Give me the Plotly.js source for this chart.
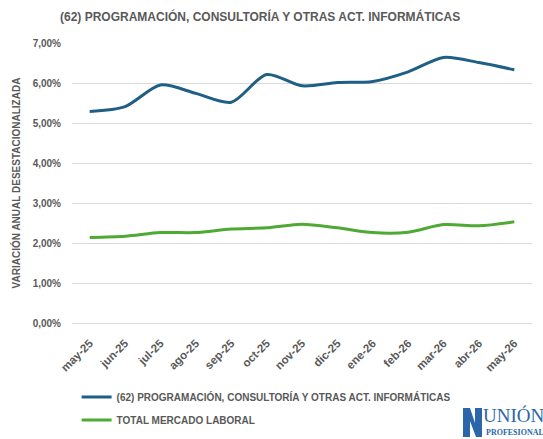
<!DOCTYPE html>
<html>
<head>
<meta charset="utf-8">
<script src="https://cdn.plot.ly/plotly-3.0.1.min.js"></script>
<style>html,body{margin:0;padding:0;background:#fff;}#chart{width:543px;height:439px;}</style>
</head>
<body>
<div id="chart"></div>
<script>
const months = ["may-25","jun-25","jul-25","ago-25","sep-25","oct-25","nov-25","dic-25","ene-26","feb-26","mar-26","abr-26","may-26"];
const informatica = [5.29,5.41,5.95,5.74,5.52,6.21,5.93,6.01,6.04,6.28,6.64,6.51,6.33];
const totalMercado = [2.14,2.17,2.26,2.26,2.35,2.38,2.47,2.38,2.26,2.27,2.46,2.43,2.53];
const yTicks = [0,1,2,3,4,5,6,7];
const yTickLabels = ["0,00%","1,00%","2,00%","3,00%","4,00%","5,00%","6,00%","7,00%"];
const seriesNames = ["(62) PROGRAMACIÓN, CONSULTORÍA Y OTRAS ACT. INFORMÁTICAS","TOTAL MERCADO LABORAL"];
const titleText = "(62) PROGRAMACIÓN, CONSULTORÍA Y OTRAS ACT. INFORMÁTICAS";
const yTitle = "VARIACIÓN ANUAL DESESTACIONALIZADA";

const fnt = "'Liberation Sans Narrow', 'Arial Narrow', 'Liberation Sans', Arial, sans-serif";
const grey = "#595959";
const legFont = {family: fnt, size: 10, color: grey, weight: "bold"};
const logoBlue = "#2a66a8";

const traces = [
  {x: months, y: informatica, name: seriesNames[0], type: "scatter", mode: "lines", legend: "legend",
   line: {color: "#1f5f85", width: 3, shape: "spline", smoothing: 0.8}},
  {x: months, y: totalMercado, name: seriesNames[1], type: "scatter", mode: "lines", legend: "legend2",
   line: {color: "#4ea935", width: 3, shape: "spline", smoothing: 0.8}}
];

// logo glyph outline (pixel coordinates converted to paper)
function px(x) { return ((x - 72) / 460).toFixed(4); }
function py(y) { return ((323 - y) / 280).toFixed(4); }
const logoPts = [[463,408],[470,408],[475,423],[475,408],[482,408],[482,437],[476,437],[470,421],[470,437],[463,437]];
const logoPath = "M " + logoPts.map(p => px(p[0]) + "," + py(p[1])).join(" L ") + " Z";

const layout = {
  width: 543, height: 439,
  margin: {l: 72, r: 11, t: 43, b: 116, autoexpand: false},
  paper_bgcolor: "#fff", plot_bgcolor: "#fff",
  font: {family: fnt, color: grey},
  title: {text: "<b>" + titleText + "</b>", x: 0.479, xanchor: "center", y: 0.962, yanchor: "middle",
          font: {family: fnt, size: 12, color: grey}},
  xaxis: {type: "category", range: [-0.5, 12.5], tickangle: -45, showgrid: false, showline: true, linecolor: "#d9d9d9",
          ticks: "", automargin: false, ticklabelstandoff: 8,
          tickfont: {family: fnt, size: 11.5, color: grey, weight: "bold"}, fixedrange: true},
  yaxis: {range: [0, 7], tickvals: yTicks, ticktext: yTickLabels, showgrid: true, gridcolor: "#d9d9d9",
          gridwidth: 1, zeroline: false, showline: false, ticks: "", ticklabelstandoff: 10, automargin: false,
          tickfont: {family: fnt, size: 10, color: grey, weight: "bold"},
          title: {text: "<b>" + yTitle + "</b>", font: {family: fnt, size: 10, color: grey}, standoff: 10}},
  showlegend: true,
  legend: {orientation: "v", x: 0.01, xanchor: "left", yref: "container", y: 0.0957, yanchor: "middle",
           font: legFont, itemwidth: 30, bgcolor: "rgba(0,0,0,0)"},
  legend2: {orientation: "v", x: 0.01, xanchor: "left", yref: "container", y: 0.0433, yanchor: "middle",
           font: legFont, itemwidth: 30, bgcolor: "rgba(0,0,0,0)"},
  shapes: [
    {type: "path", xref: "paper", yref: "paper", path: logoPath, fillcolor: logoBlue, line: {width: 0}}
  ],
  annotations: [
    {text: "UNIÓN", xref: "paper", yref: "paper", x: 1.03, y: -0.332, xanchor: "right", yanchor: "middle",
     showarrow: false, font: {family: "'Liberation Serif', 'DejaVu Serif', serif", size: 19, color: logoBlue}},
    {text: "<b>PROFESIONAL</b>", xref: "paper", yref: "paper", x: 1.03, y: -0.39, xanchor: "right", yanchor: "middle",
     showarrow: false, font: {family: "'Liberation Serif', 'DejaVu Serif', serif", size: 8, color: logoBlue}}
  ]
};

Plotly.newPlot("chart", traces, layout, {displayModeBar: false, staticPlot: true});
</script>
</body>
</html>
